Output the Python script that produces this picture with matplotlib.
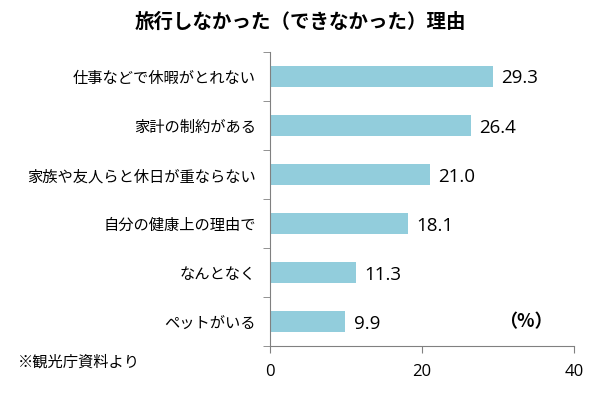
import matplotlib
matplotlib.use("Agg")
import matplotlib.pyplot as plt
import numpy as np

plt.rcParams['font.family'] = ['Noto Sans CJK JP', 'DejaVu Sans']

# data
reasons = ["仕事などで休暇がとれない", "家計の制約がある", "家族や友人らと休日が重ならない",
           "自分の健康上の理由で", "なんとなく", "ペットがいる"]
values = [29.3, 26.4, 21.0, 18.1, 11.3, 9.9]
x_ticks = [0, 20, 40]

fig = plt.figure(figsize=(6.0, 3.97), dpi=100)
ax = fig.add_axes([0.45, 0.128, 0.507, 0.741])

y = np.arange(len(reasons))
ax.barh(y, values, height=0.42, color="#92CDDC")
ax.set_ylim(len(reasons) - 0.5, -0.5)
ax.set_xlim(0, 40)

for yi, v in zip(y, values):
    ax.text(v + 1.1, yi + 0.04, f"{v:.1f}", va="center", ha="left", fontsize=13.5,
            family=["Open Sans", "DejaVu Sans"])

ax.set_yticks(y)
ax.set_yticklabels(reasons, fontsize=11)
ax.tick_params(axis="y", length=0, pad=10)
ax.set_yticks(np.arange(-0.5, len(reasons)), minor=True)
ax.tick_params(axis="y", which="minor", length=5, color="#808080")

ax.set_xticks(x_ticks)
ax.set_xticklabels([str(t) for t in x_ticks], fontsize=12, family=["Open Sans", "DejaVu Sans"])
ax.tick_params(axis="x", length=5, color="#808080", pad=8)

for s in ["top", "right"]:
    ax.spines[s].set_visible(False)
for s in ["left", "bottom"]:
    ax.spines[s].set_color("#808080")

ax.text(0.84, 0.083, "（%）", transform=ax.transAxes, ha="center", va="center",
        fontsize=13, fontweight="bold")

fig.text(0.5, 0.945, "旅行しなかった（できなかった）理由", ha="center", va="center",
         fontsize=14, fontweight="bold")
fig.text(0.03, 0.088, "※観光庁資料より", ha="left", va="center", fontsize=11)

fig.savefig("out.png", dpi=100)
